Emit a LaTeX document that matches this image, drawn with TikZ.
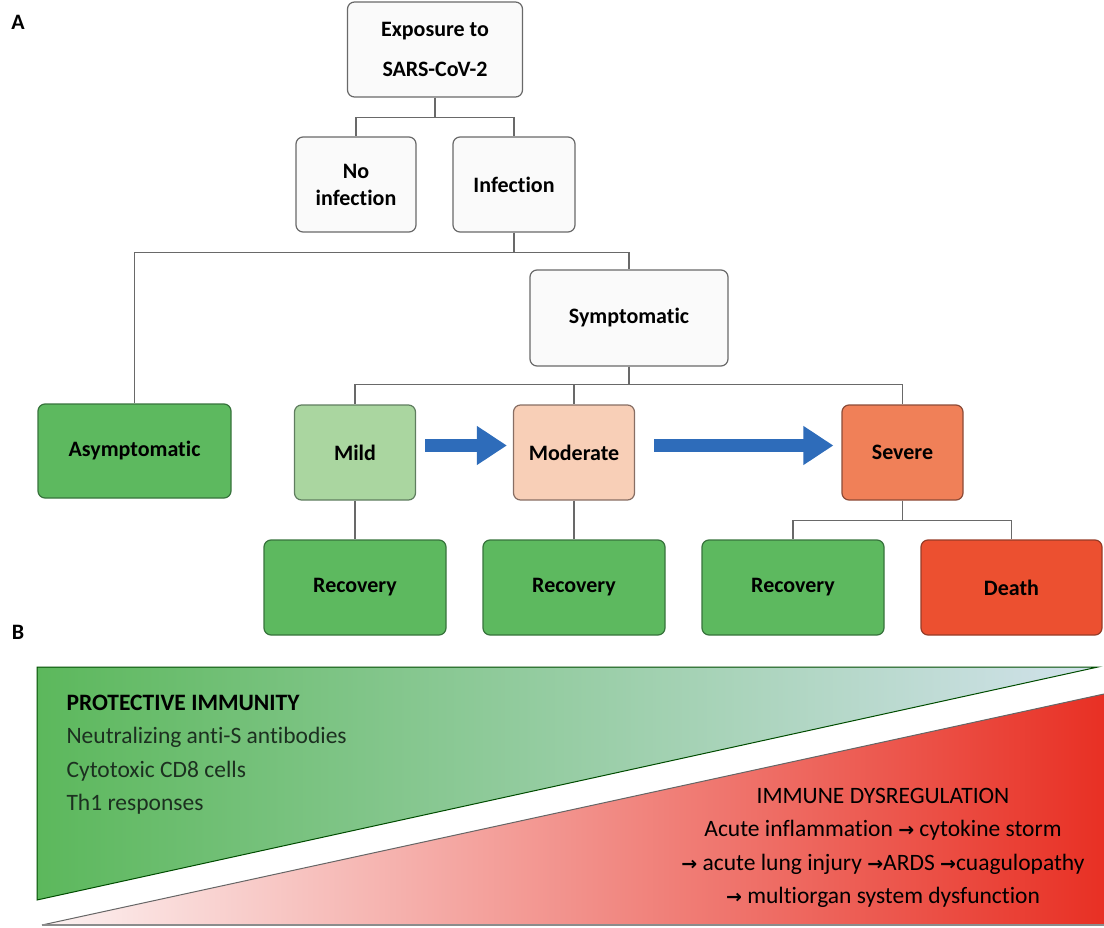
\documentclass[tikz,border=0pt]{standalone}
\usepackage{fontspec}
\setmainfont[Ligatures=NoCommon]{Carlito}
\newfontfamily\symfont{DejaVu Sans}
\usetikzlibrary{arrows.meta,positioning}

\definecolor{boxline}{RGB}{105,105,105}
\definecolor{boxwhite}{RGB}{250,250,250}
\definecolor{goodfill}{RGB}{93,185,95}
\definecolor{goodline}{RGB}{55,115,60}
\definecolor{mildfill}{RGB}{170,214,160}
\definecolor{mildline}{RGB}{95,125,95}
\definecolor{modfill}{RGB}{248,207,183}
\definecolor{modline}{RGB}{135,110,100}
\definecolor{sevfill}{RGB}{240,128,88}
\definecolor{sevline}{RGB}{140,75,55}
\definecolor{deathfill}{RGB}{236,80,48}
\definecolor{deathline}{RGB}{150,60,40}
\definecolor{flowblue}{RGB}{46,108,186}
\definecolor{greenL}{RGB}{92,184,92}
\definecolor{greenM}{RGB}{125,196,150}
\definecolor{greenR}{RGB}{210,226,236}
\definecolor{redL}{RGB}{252,242,242}
\definecolor{redM}{RGB}{245,195,192}
\definecolor{redR}{RGB}{232,48,36}
\definecolor{greentext}{RGB}{28,48,32}

\newcommand{\ra}{{\symfont\bfseries\fontsize{19}{22}\selectfont →}}

\begin{document}
\begin{tikzpicture}[
  x=1pt,
  y=-1pt,
  every node/.style={font=\fontsize{22}{27}\selectfont\bfseries},
  box/.style={draw=boxline, fill=boxwhite, rounded corners=7pt, line width=1.2pt,
    minimum width=121pt, minimum height=95pt, inner sep=0pt, align=center},
  goodbox/.style={box, draw=goodline, fill=goodfill, minimum width=182pt},
  mildbox/.style={box, draw=mildline, fill=mildfill},
  modbox/.style={box, draw=modline, fill=modfill},
  sevbox/.style={box, draw=sevline, fill=sevfill},
  deathbox/.style={box, draw=deathline, fill=deathfill, minimum width=181pt},
  link/.style={draw=boxline, line width=1.2pt},
  flow/.style={draw=flowblue, line width=13pt, -{Triangle[length=30pt,width=37pt]}},
  btext/.style={font=\fontsize{23.5}{28}\selectfont, anchor=base west, text=greentext},
  rtext/.style={font=\fontsize{23.5}{28}\selectfont, anchor=base, text=black}
]
  \useasboundingbox (0,0) rectangle (1104,928);

  % panel A
  \node (lblA) at (18,22) {A};
  \node[box, minimum width=175pt, font=\fontsize{22}{40}\selectfont\bfseries] (expo) at (435,49.5) {Exposure to\\SARS-CoV-2};
  \node[box, minimum width=120pt] (noinf) at (356,184.5) {No\\infection};
  \node[box, minimum width=122pt] (inf) at (514,184.5) {Infection};
  \node[box, minimum width=198pt, minimum height=96pt] (symp) at (629,318) {Symptomatic};

  \node[goodbox, minimum width=193pt, minimum height=94pt] (asym) at (134.5,451) {Asymptomatic};
  \node[mildbox] (mild) at (355,452.5) {Mild};
  \node[modbox] (mod) at (574,452.5) {Moderate};
  \node[sevbox] (sev) at (902.5,452.5) {Severe};

  \node[goodbox] (recA) at (355,587.5) {Recovery};
  \node[goodbox] (recB) at (574,587.5) {Recovery};
  \node[goodbox] (recC) at (793,587.5) {Recovery};
  \node[deathbox] (death) at (1011.5,587.5) {Death};

  \draw[link] (expo.south) -- ++(0,20) -| (noinf.north);
  \draw[link] (expo.south) -- ++(0,20) -| (inf.north);
  \draw[link] (inf.south) -- ++(0,20) -| (asym.north);
  \draw[link] (inf.south) -- ++(0,20) -| (symp.north);
  \draw[link] (symp.south) -- ++(0,18) -| (mild.north);
  \draw[link] (symp.south) -- ++(0,18) -| (mod.north);
  \draw[link] (symp.south) -- ++(0,18) -| (sev.north);
  \draw[link] (mild.south) -- (recA.north);
  \draw[link] (mod.south) -- (recB.north);
  \draw[link] (sev.south) -- ++(0,20) -| (recC.north);
  \draw[link] (sev.south) -- ++(0,20) -| (death.north);

  \draw[flow, shorten <=9pt, shorten >=6pt] ([yshift=7pt]mild.east) -- ([yshift=7pt]mod.west);
  \draw[flow, shorten <=19pt, shorten >=8pt] ([yshift=7pt]mod.east) -- ([yshift=7pt]sev.west);

  % panel B
  \node (lblB) at (18,632) {B};
  \shade[left color=greenL, middle color=greenM, right color=greenR] (37,667) -- (1098,667) -- (37,900) -- cycle;
  \draw[draw=black!70!green, line width=1pt] (37,667) -- (1098,667) -- (37,900) -- cycle;
  \shade[left color=redL, middle color=redM, right color=redR] (1104,694) -- (1104,925) -- (42,925) -- cycle;
  \draw[draw=black!60, line width=1pt] (42,925) -- (1104,694);
  \draw[draw=black!45, line width=2pt] (42,925) -- (1104,925);

  \node[btext, text=black, font=\fontsize{23.5}{28}\selectfont\bfseries] (prot) at (63,710) {PROTECTIVE IMMUNITY};
  \node[btext] (protA) at (63,743.5) {Neutralizing anti-S antibodies};
  \node[btext] (protB) at (63,777) {Cytotoxic CD8 cells};
  \node[btext] (protC) at (63,810.5) {Th1 responses};

  \node[rtext] (dysr) at (883,803) {IMMUNE DYSREGULATION};
  \node[rtext] (dysrA) at (883,836.5) {Acute inflammation \ra{} cytokine storm};
  \node[rtext] (dysrB) at (883,870) {\ra{} acute lung injury \ra ARDS \ra cuagulopathy};
  \node[rtext] (dysrC) at (883,903.5) {\ra{} multiorgan system dysfunction};
\end{tikzpicture}
\end{document}
